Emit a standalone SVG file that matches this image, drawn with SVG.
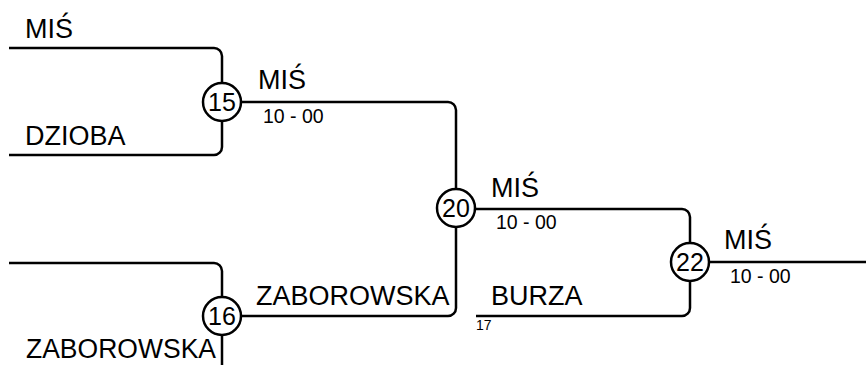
<svg xmlns="http://www.w3.org/2000/svg" width="866" height="365" viewBox="0 0 866 365">
<style>
.ln{fill:none;stroke:#000;stroke-width:2.5}
.nd{fill:#fff;stroke:#000;stroke-width:2.5}
.big{font-family:"Liberation Sans",Arial,sans-serif;font-size:27px;fill:#000}
.num{font-family:"Liberation Sans",Arial,sans-serif;font-size:25px;fill:#000;text-anchor:middle}
.sc{font-family:"Liberation Sans",Arial,sans-serif;font-size:19.5px;fill:#000}
.sm{font-family:"Liberation Sans",Arial,sans-serif;font-size:14px;fill:#000}
</style>
<rect width="866" height="365" fill="#fff"/>
<g id="connectors">
<path class="ln" d="M9,48 H214 A8,8 0 0 1 222,56 V84"/>
<path class="ln" d="M9,155 H214 A8,8 0 0 0 222,147 V120"/>
<path class="ln" d="M9,263 H214 A8,8 0 0 1 222,271 V298"/>
<path class="ln" d="M222,334 V372 H9"/>
<path class="ln" d="M240,102 H448 A8,8 0 0 1 456,110 V190"/>
<path class="ln" d="M240,316 H448 A8,8 0 0 0 456,308 V226"/>
<path class="ln" d="M474,209 H682 A8,8 0 0 1 690,217 V244"/>
<path class="ln" d="M476,316 H682 A8,8 0 0 0 690,308 V280"/>
<path class="ln" d="M708,262 H866"/>
</g>
<g id="labels">
<text class="big" x="25" y="38">MIŚ</text>
<text class="big" x="25" y="145">DZIOBA</text>
<text class="big" x="26" y="358" textLength="190" lengthAdjust="spacingAndGlyphs">ZABOROWSKA</text>
<text class="big" x="258" y="89">MIŚ</text>
<text class="sc" x="263" y="123">10 - 00</text>
<text class="big" x="256" y="305">ZABOROWSKA</text>
<text class="big" x="491" y="197">MIŚ</text>
<text class="sc" x="496" y="229">10 - 00</text>
<text class="big" x="491" y="305">BURZA</text>
<text class="sm" x="476" y="330">17</text>
<text class="big" x="724" y="249">MIŚ</text>
<text class="sc" x="730" y="283">10 - 00</text>
</g>
<g id="node15"><circle class="nd" cx="222" cy="102" r="19"/><text class="num" x="222" y="111">15</text></g>
<g id="node16"><circle class="nd" cx="222" cy="316" r="19"/><text class="num" x="222" y="325">16</text></g>
<g id="node20"><circle class="nd" cx="456" cy="208" r="19"/><text class="num" x="456" y="217">20</text></g>
<g id="node22"><circle class="nd" cx="690" cy="262" r="19"/><text class="num" x="690" y="271">22</text></g>
</svg>
